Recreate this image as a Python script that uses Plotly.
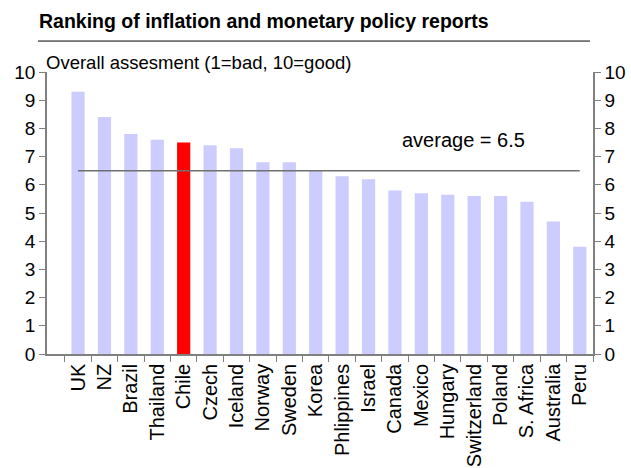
import plotly.graph_objects as go

# Country rankings of inflation / monetary policy reports
countries = ["UK", "NZ", "Brazil", "Thailand", "Chile", "Czech", "Iceland", "Norway",
             "Sweden", "Korea", "Phlippines", "Israel", "Canada", "Mexico", "Hungary",
             "Switzerland", "Poland", "S. Africa", "Australia", "Peru"]
scores = [9.3, 8.4, 7.8, 7.6, 7.5, 7.4, 7.3, 6.8, 6.8, 6.5, 6.3, 6.2, 5.8, 5.7, 5.65,
          5.6, 5.6, 5.4, 4.7, 3.8]
highlight = "Chile"
average = 6.5
y_ticks = list(range(0, 11))

W, H = 631, 468
L, R, T, B = 47, 38, 72, 113.5
pw, ph = W - L - R, H - T - B

FONT = "Arial, Liberation Sans, sans-serif"
AXIS_COL = "#808080"

def px_x(px):
    return (px - L) / pw

def px_y(py):
    return (H - B - py) / ph

bar_colors = ["#FF0000" if c == highlight else "#CCCCFF" for c in countries]

fig = go.Figure()
fig.add_trace(go.Bar(x=countries, y=scores, marker_color=bar_colors,
                     marker_line_width=0, showlegend=False, hoverinfo="x+y"))
fig.add_trace(go.Scatter(x=[countries[0], countries[-1]], y=[average, average],
                         mode="lines", line=dict(color="#707070", width=1.6),
                         showlegend=False, hoverinfo="skip"))
# invisible trace so the right-hand axis is drawn
fig.add_trace(go.Scatter(x=[countries[0]], y=[0], yaxis="y2", mode="markers",
                         marker=dict(opacity=0), showlegend=False, hoverinfo="skip"))

axis_common = dict(range=[0, 10], tickvals=y_ticks, ticks="outside", ticklen=6,
                   tickcolor=AXIS_COL, showline=True, linecolor=AXIS_COL, linewidth=1.5,
                   showgrid=False, zeroline=False, tickfont=dict(size=19),
                   automargin=False)

fig.update_layout(
    width=W, height=H,
    margin=dict(l=L, r=R, t=T, b=B, pad=0),
    plot_bgcolor="white", paper_bgcolor="white",
    font=dict(family=FONT, size=19, color="black"),
    bargap=0.5,
    xaxis=dict(type="category", tickson="boundaries", ticks="outside", ticklen=6,
               tickcolor=AXIS_COL, tickwidth=1, tickangle=-90,
               showline=True, linecolor=AXIS_COL, linewidth=1.5,
               showgrid=False, zeroline=False, tickfont=dict(size=20),
               automargin=False),
    yaxis=axis_common,
    yaxis2=dict(axis_common, overlaying="y", side="right", anchor="x"),
    annotations=[
        dict(text="<b>Ranking of inflation and monetary policy reports</b>",
             xref="paper", yref="paper", x=px_x(37), y=px_y(21),
             xanchor="left", yanchor="middle", showarrow=False,
             font=dict(size=19.5)),
        dict(text="Overall assesment (1=bad, 10=good)",
             xref="paper", yref="paper", x=px_x(44), y=px_y(62),
             xanchor="left", yanchor="middle", showarrow=False,
             font=dict(size=18.5)),
        dict(text=f"average = {average}", xref="x", yref="y",
             x=14.6, y=7.6, xanchor="center", yanchor="middle",
             showarrow=False, font=dict(size=20)),
    ],
    shapes=[
        dict(type="line", xref="paper", yref="paper",
             x0=px_x(38), x1=px_x(590), y0=px_y(41), y1=px_y(41),
             line=dict(color="black", width=1)),
    ],
)

fig.write_html("out.html")
